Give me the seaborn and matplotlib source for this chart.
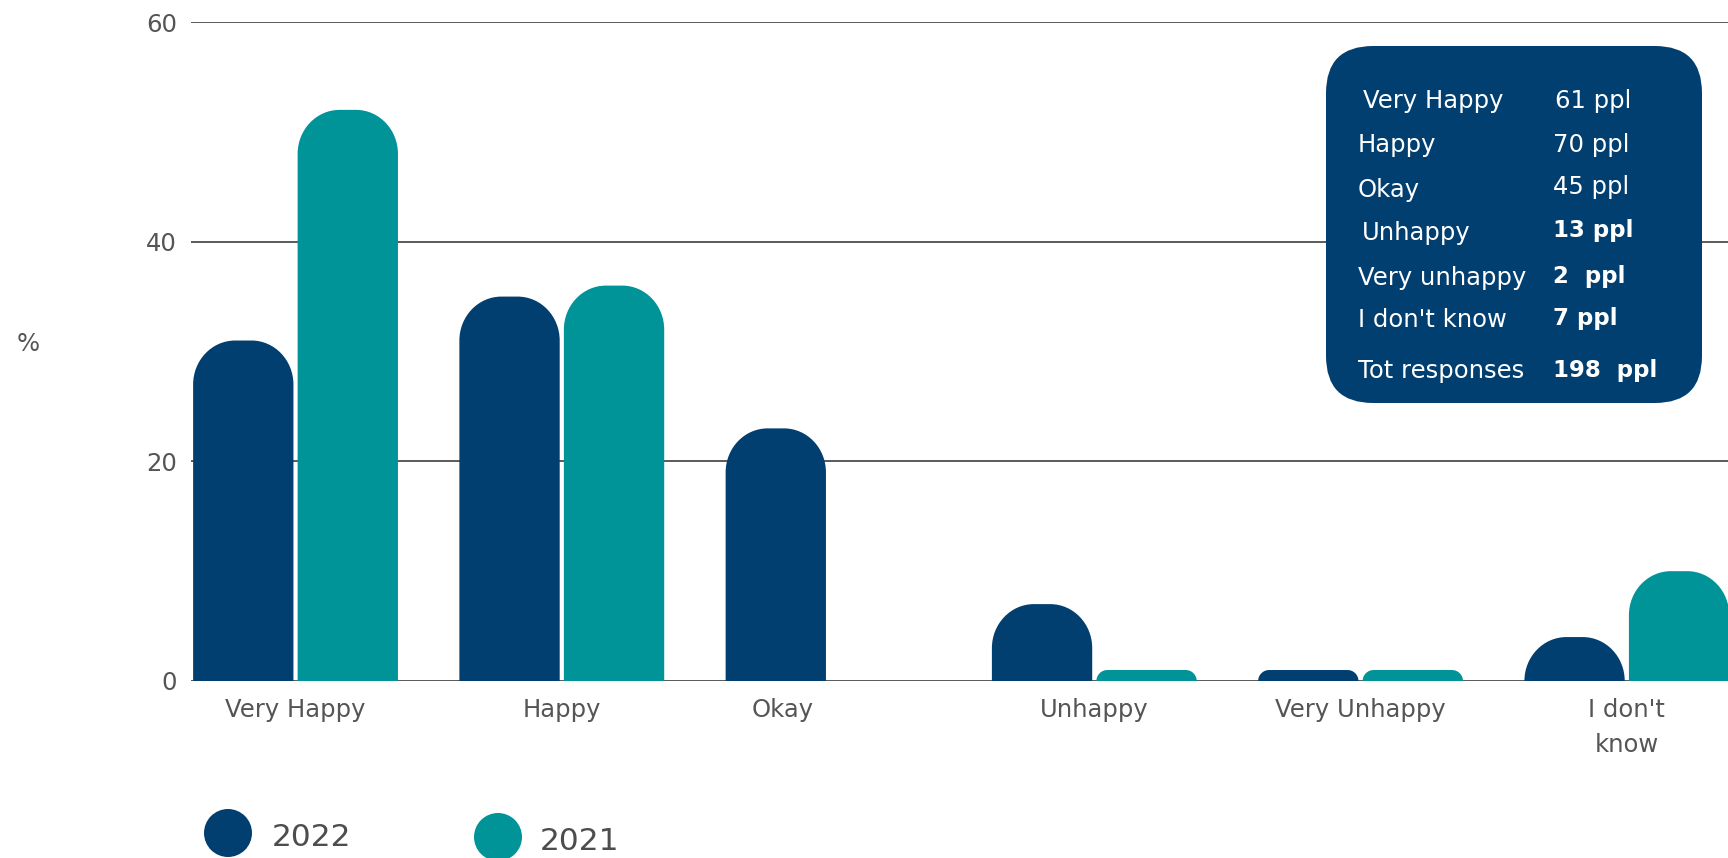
import numpy as np
import pandas as pd
import seaborn as sns
import matplotlib
matplotlib.use("Agg")
import matplotlib.pyplot as plt
from matplotlib.path import Path
from matplotlib.patches import PathPatch, FancyBboxPatch, Circle

# ---- data -------------------------------------------------------------
categories = ["Very Happy", "Happy", "Okay", "Unhappy", "Very Unhappy", "I don't\nknow"]
pct_2022 = [31, 35, 23, 7, 1, 4]
pct_2021 = [52, 36, 0, 1, 1, 10]
years = ["2022", "2021"]
y_ticks = [0, 20, 40, 60]

box_labels = ["Very Happy", "Happy", "Okay", "Unhappy", "Very unhappy", "I don't know", "Tot responses"]
box_values = ["61 ppl", "70 ppl", "45 ppl", "13 ppl", "2  ppl", "7 ppl", "198  ppl"]
box_bold = [False, False, False, True, True, True, True]

NAVY = "#023f71"
TEAL = "#009499"
GREY = "#555555"
FONT = ["DejaVu Sans"]
FS = 17.5

df = pd.DataFrame({
    "category": categories * 2,
    "pct": pct_2022 + pct_2021,
    "year": [years[0]] * len(categories) + [years[1]] * len(categories),
})

# ---- figure -----------------------------------------------------------
W, H, DPI = 1728, 858, 100
sns.set_style("white")
plt.rcParams["font.family"] = FONT
fig = plt.figure(figsize=(W / DPI, H / DPI), dpi=DPI)
ax = fig.add_axes([191 / W, 1 - 681 / H, 1 - 191 / W, (681 - 22) / H])


def px(x, y):
    """pixel position (from top-left) -> inches for dpi_scale_trans"""
    return x / DPI, (H - y) / DPI


sns.barplot(data=df, x="category", y="pct", hue="year", hue_order=years,
            order=categories, palette=[NAVY, TEAL], saturation=1,
            width=0.785, gap=0.04, ax=ax, legend=False, errorbar=None)

ax.set_ylim(0, 60)
ax.set_xlim(-0.3926, 5.38)
ax.set_yticks(y_ticks)
ax.set_yticklabels([str(v) for v in y_ticks])
ax.set_xlabel("")
ax.set_ylabel("")
for s in ax.spines.values():
    s.set_visible(False)
ax.yaxis.grid(True, color="#4d4d4d", linewidth=1.3)
ax.xaxis.grid(False)
ax.set_axisbelow(True)
ax.tick_params(axis="both", length=0, colors=GREY, labelsize=FS)
ax.tick_params(axis="y", pad=10)
ax.tick_params(axis="x", pad=12)

# category labels (the "Okay" label sits a little left of its pair)
xpos = [0, 1, 1.83, 3, 4, 5]
ax.set_xticks(xpos)
ax.set_xticklabels(categories, linespacing=1.6)

# ---- rounded bar tops -------------------------------------------------
fig.canvas.draw()
p0 = ax.transData.transform((0, 0))
ppx = ax.transData.transform((1, 0))[0] - p0[0]
ppy = ax.transData.transform((0, 1))[1] - p0[1]
K = 0.5523
for rect in list(ax.patches):
    x0, w, h = rect.get_x(), rect.get_width(), rect.get_height()
    color = rect.get_facecolor()
    rect.remove()
    if h <= 0:
        continue
    wpx, hpx = w * ppx, h * ppy
    rxp = min(42, wpx / 2, hpx)
    ryp = min(44, hpx)
    rx, ry = rxp / ppx, ryp / ppy
    x1 = x0 + w
    verts = [
        (x0, 0), (x0, h - ry),
        (x0, h - ry + K * ry), (x0 + rx - K * rx, h), (x0 + rx, h),
        (x1 - rx, h),
        (x1 - rx + K * rx, h), (x1, h - ry + K * ry), (x1, h - ry),
        (x1, 0), (x0, 0),
    ]
    codes = [Path.MOVETO, Path.LINETO,
             Path.CURVE4, Path.CURVE4, Path.CURVE4,
             Path.LINETO,
             Path.CURVE4, Path.CURVE4, Path.CURVE4,
             Path.LINETO, Path.CLOSEPOLY]
    ax.add_patch(PathPatch(Path(verts, codes), facecolor=color,
                           edgecolor="none", zorder=3))

# ---- y axis title -----------------------------------------------------
fig.text(*px(28, 344), "%", transform=fig.dpi_scale_trans, ha="center",
         va="center", fontsize=FS, color=GREY)

# ---- summary box --------------------------------------------------------
bx0, by0 = px(1326, 403)
fig.add_artist(FancyBboxPatch((bx0, by0), 3.76, 3.57,
                              boxstyle="round,pad=0,rounding_size=0.47",
                              transform=fig.dpi_scale_trans,
                              facecolor=NAVY, edgecolor="none", zorder=5))
label_x = [1363, 1358, 1358, 1362, 1358, 1358, 1358]
label_y = [108, 152, 197, 240, 285, 327, 378]
value_x = [1555, 1553, 1553, 1553, 1553, 1553, 1553]
value_y = [108, 152, 194, 237, 283, 325, 377]
for lab, val, bold, lx, ly, vx, vy in zip(box_labels, box_values, box_bold,
                                          label_x, label_y, value_x, value_y):
    fig.text(*px(lx, ly), lab, transform=fig.dpi_scale_trans, ha="left",
             va="baseline", fontsize=FS, color="white", zorder=6)
    fig.text(*px(vx, vy), val, transform=fig.dpi_scale_trans, ha="left",
             va="baseline", fontsize=FS - 1 if bold else FS, color="white",
             zorder=6, fontweight="bold" if bold else "normal")

# ---- legend -------------------------------------------------------------
legend_items = [(years[0], NAVY, 228, 833, 272, 837), (years[1], TEAL, 498, 837, 540, 841)]
for name, col, cx, cy, tx, ty in legend_items:
    fig.add_artist(Circle(px(cx, cy), 0.24, transform=fig.dpi_scale_trans,
                          facecolor=col, edgecolor="none"))
    fig.text(*px(tx, ty), name, transform=fig.dpi_scale_trans, ha="left",
             va="center", fontsize=22.5, color="#4d4d4d")

fig.savefig("out.png", dpi=DPI)
